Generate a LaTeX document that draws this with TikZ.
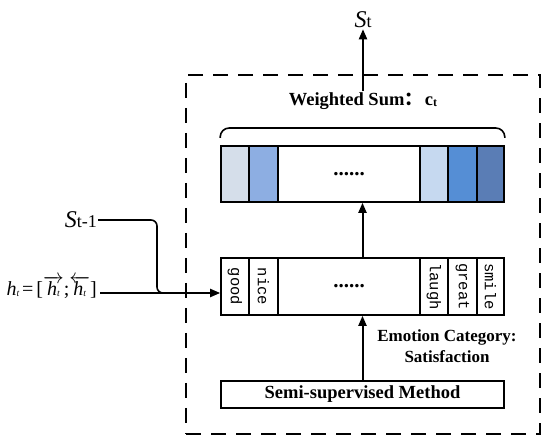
\documentclass[tikz,border=0pt]{standalone}
\usepackage{fontspec}
\setmainfont{Liberation Serif}
\newfontfamily\monofont{Liberation Mono}
\newfontfamily\cjkfont{Noto Sans CJK SC}
\usetikzlibrary{arrows.meta}
\definecolor{ca}{HTML}{D5DEEA}
\definecolor{cb}{HTML}{8DAEE2}
\definecolor{cc}{HTML}{C6D9F0}
\definecolor{cd}{HTML}{558ED5}
\definecolor{ce}{HTML}{5A7DB5}
\begin{document}
\begin{tikzpicture}[x=1pt,y=-1pt,
  box/.style={draw,line width=1.6pt,inner sep=0pt},
  cell/.style={draw,line width=1.6pt,inner sep=0pt,minimum height=56pt},
  wcell/.style={draw,line width=1.6pt,inner sep=0pt,minimum height=57pt},
  word/.style={font=\monofont\fontsize{15.5}{15.5}\selectfont,rotate=-90,inner sep=0pt},
  arr/.style={line width=2pt,-{Triangle[length=10pt,width=8pt]}},
  lbl/.style={font=\bfseries\fontsize{17}{21}\selectfont,align=center,inner sep=1pt},
  dots/.style={font=\bfseries\fontsize{21}{21}\selectfont,inner sep=0pt},
  frame/.style={draw,line width=1.6pt,dash pattern=on 15pt off 10pt}]
\useasboundingbox (0,0) rectangle (550,446);

% dashed frame
\node[frame,inner sep=0pt,minimum width=354pt,minimum height=359pt] (frm) at (363,254.5) {};

% top vector
\node[cell,fill=ca,minimum width=28pt] (v1) at (235,174) {};
\node[cell,fill=cb,minimum width=29pt] (v2) at (263.5,174) {};
\node[cell,fill=white,minimum width=142pt] (v3) at (349,174) {};
\node[cell,fill=cc,minimum width=28pt] (v4) at (434,174) {};
\node[cell,fill=cd,minimum width=29pt] (v5) at (462.5,174) {};
\node[cell,fill=ce,minimum width=27pt] (v6) at (490.5,174) {};
\node[box,minimum width=283pt,minimum height=56pt] (vec) at (362.5,174) {};
\node[dots] (vd) at (v3) {......};

% brace
\draw[line width=1.6pt,rounded corners=9pt] (vec.north west |- 0,138) -- (vec.north west |- 0,128) -- (vec.north east |- 0,128) -- (vec.north east |- 0,138);

% weighted sum label
\node[lbl,font=\bfseries\fontsize{18.5}{21}\selectfont] (ws) at (363,101) {Weighted Sum{\cjkfont\bfseries ：}\hspace{2pt}c\raisebox{-1.5pt}{\fontsize{12}{12}\selectfont t}};
\node[inner sep=1pt] (st) at (363,20) {{\fontsize{24}{24}\selectfont\itshape S}{\fontsize{18}{18}\selectfont t}};
\draw[arr] (ws.north) -- (ws.north |- st.south);

% word row
\node[wcell,minimum width=28pt] (w1) at (235,286.5) {};
\node[wcell,minimum width=29pt] (w2) at (263.5,286.5) {};
\node[wcell,minimum width=142pt] (w3) at (349,286.5) {};
\node[wcell,minimum width=28pt] (w4) at (434,286.5) {};
\node[wcell,minimum width=29pt] (w5) at (462.5,286.5) {};
\node[wcell,minimum width=27pt] (w6) at (490.5,286.5) {};
\node[box,minimum width=283pt,minimum height=57pt] (words) at (362.5,286.5) {};
\node[word] (t1) at (w1) {good};
\node[word] (t2) at (w2) {nice};
\node[word] (t4) at (w4) {laugh};
\node[word] (t5) at (w5) {great};
\node[word] (t6) at (w6) {smile};
\node[dots] (wd) at (w3) {......};

\draw[arr] (words.north) -- (vec.south);

% semi-supervised
\node[box,minimum width=283pt,minimum height=27pt,font=\bfseries\fontsize{18.5}{20}\selectfont] (semi) at (362.5,394.5) {Semi-supervised Method};
\draw[arr] (semi.north) -- (words.south);
\node[lbl] (emo) at (447,346) {Emotion Category:\\Satisfaction};

% inputs
\node[anchor=base east,inner sep=0pt,font=\fontsize{20}{20}\selectfont] (ht) at (97,296)
  {{\itshape h}\raisebox{-1pt}{\fontsize{9.5}{9.5}\selectfont\itshape t}\hspace{3pt}=\hspace{3pt}[$\overrightarrow{\hbox{\itshape h\raisebox{-1pt}{\fontsize{9.5}{9.5}\selectfont t}}}$;$\overleftarrow{\hbox{\itshape h\raisebox{-1pt}{\fontsize{9.5}{9.5}\selectfont t}}}$]};
\node[anchor=east,inner sep=1pt] (st1) at (98,220) {{\fontsize{24}{24}\selectfont\itshape S}{\fontsize{18}{18}\selectfont t-1}};
\coordinate (hs) at (100,293);
\draw[arr] (hs) -- (hs -| w1.west);
\draw[line width=1.6pt,rounded corners=6pt] (st1.east) -- (157,220) -- (157,293) -- (168,293);
\end{tikzpicture}
\end{document}
